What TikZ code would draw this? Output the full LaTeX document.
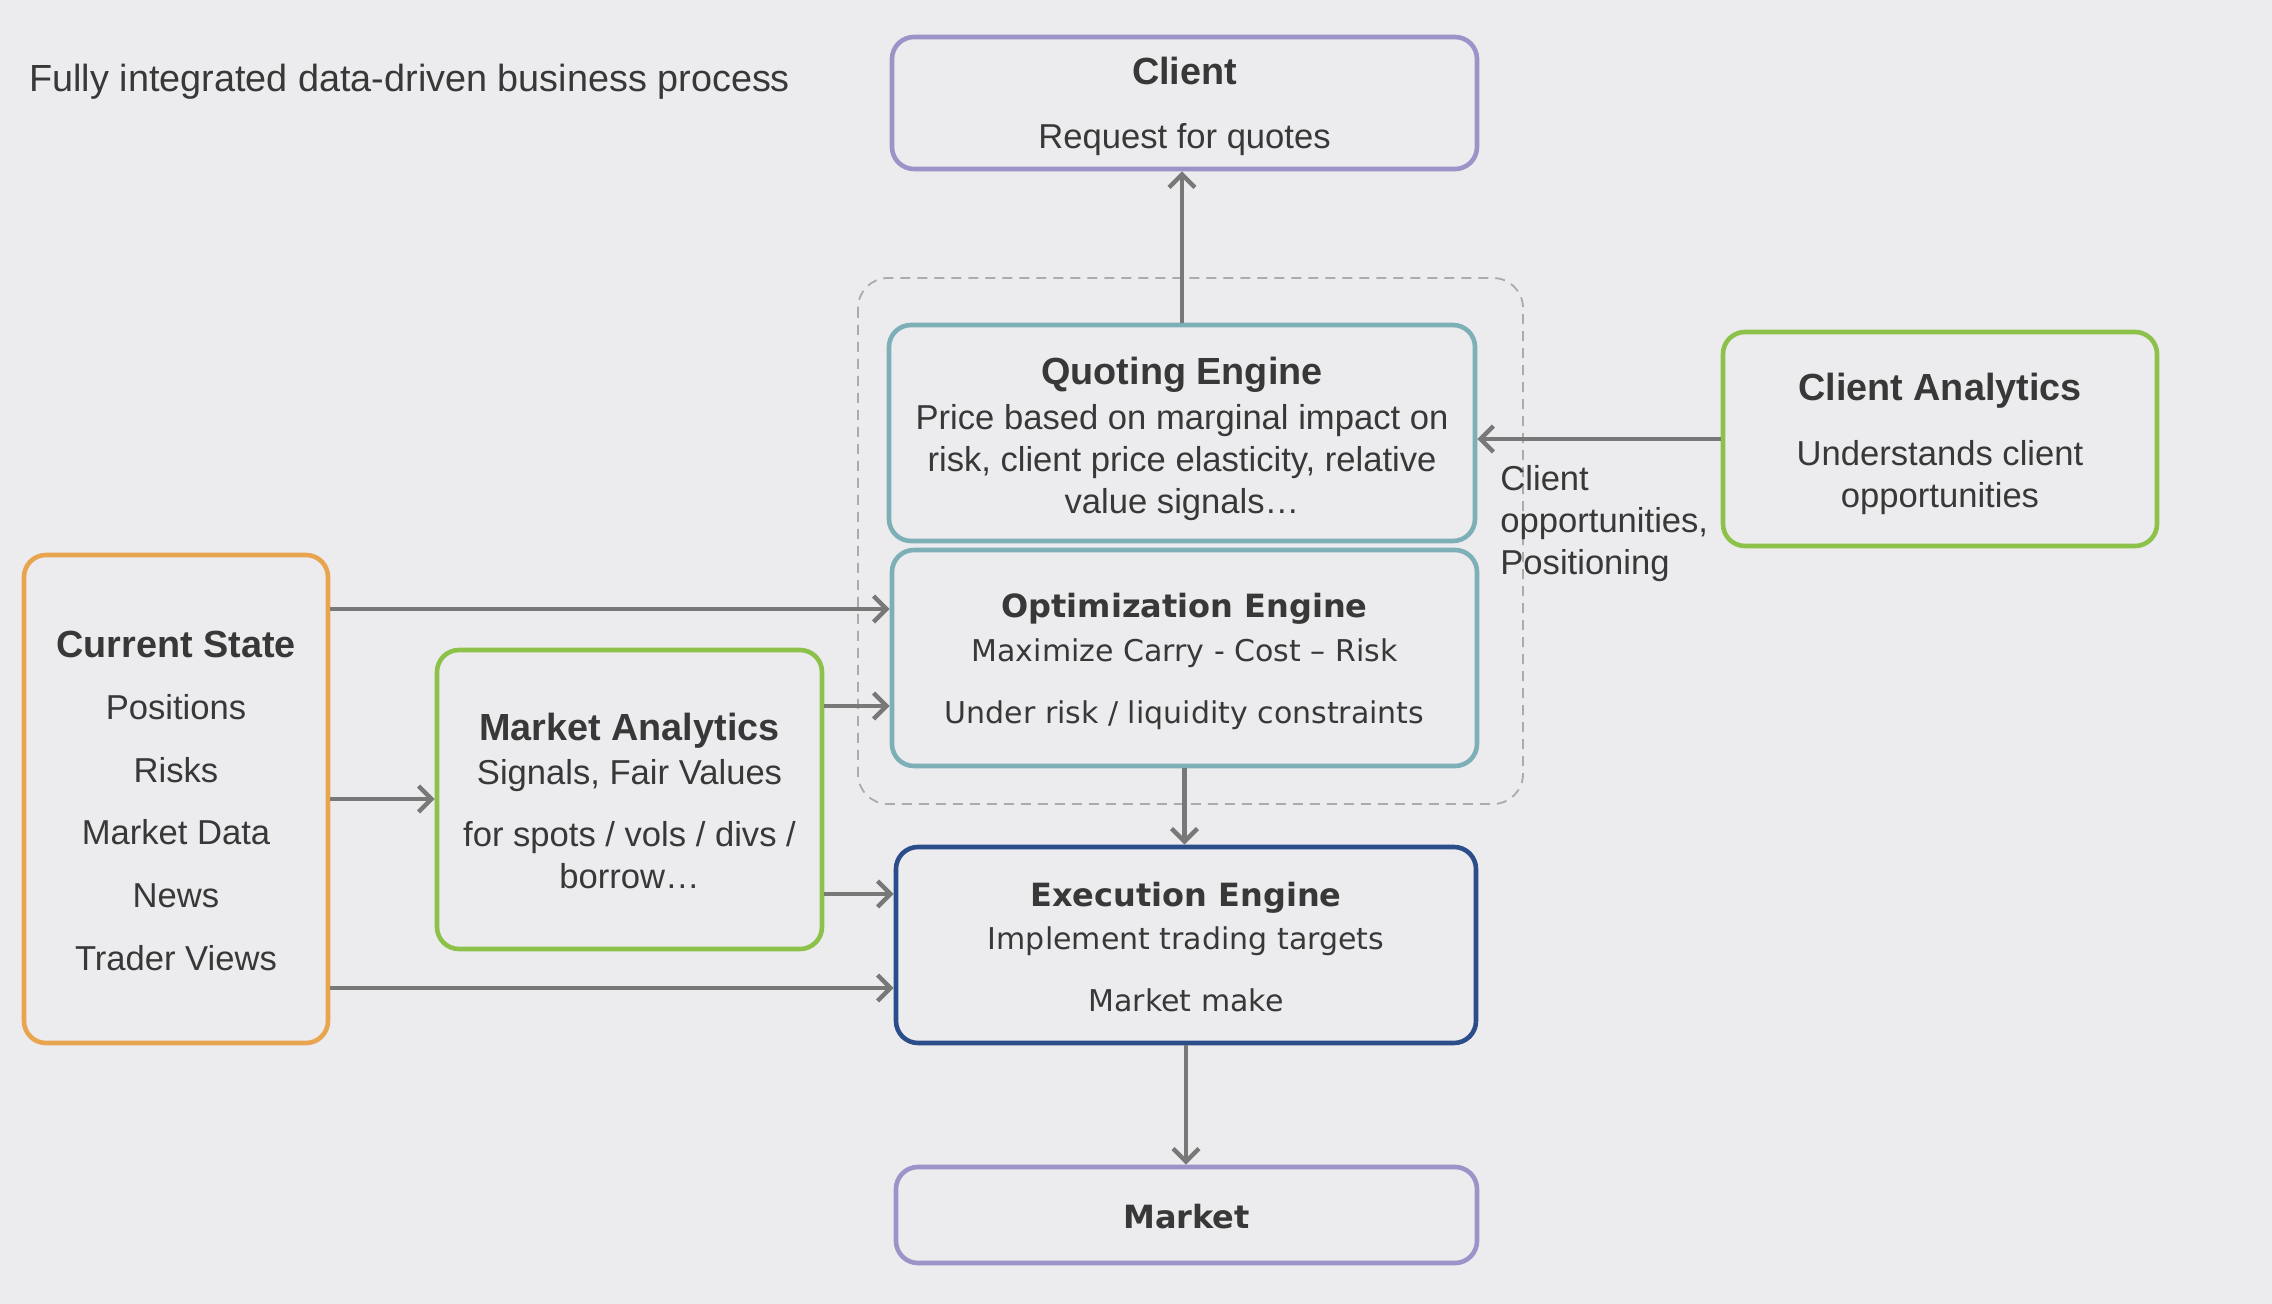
\documentclass[tikz,border=0pt]{standalone}
\usepackage{fontspec}
\setmainfont{Liberation Sans}
\newfontfamily\vfont{DejaVu Sans}
\usetikzlibrary{arrows.meta}
\definecolor{bg}{HTML}{ECECEE}
\definecolor{txt}{HTML}{383838}
\definecolor{purp}{HTML}{9C94C8}
\definecolor{tealc}{HTML}{7DAFB6}
\definecolor{navy}{HTML}{2B4D8A}
\definecolor{grn}{HTML}{8CC24A}
\definecolor{orng}{HTML}{E8A44E}
\definecolor{arrc}{HTML}{787878}
\definecolor{dashc}{HTML}{ABABAB}
\newcommand\boxhead[1]{{\fontsize{18.9}{21}\selectfont\bfseries #1}}
\newcommand\vhead[1]{{\vfont\fontsize{16}{21}\selectfont\bfseries #1}}
\begin{document}
\begin{tikzpicture}[x=0.5pt,y=-0.5pt,
  box/.style={draw, line width=2.3pt, rounded corners=11pt, inner sep=0pt},
  btext/.style={inner sep=0pt, align=center, text=txt, font=\fontsize{17.3}{21}\selectfont},
  vtext/.style={btext, font=\vfont\fontsize{15}{21}\selectfont},
  arr/.style={draw=arrc, line width=2.2pt, -{Straight Barb[length=6.5pt,width=13pt,line width=2.2pt]}},
  grpbox/.style={draw=dashc, line width=0.9pt, dash pattern=on 5pt off 3.5pt, rounded corners=15pt},
  lbl/.style={text=txt, inner sep=0pt, align=left, font=\fontsize{17.3}{21}\selectfont}
]
\fill[bg] (0,0) rectangle (2272,1304);
\useasboundingbox (0,0) rectangle (2272,1304);

\node[lbl, anchor=west, font=\fontsize{18.9}{22}\selectfont] (title) at (29,82) {Fully integrated data-driven business process};

\draw[grpbox] (858,278) rectangle (1523,804);

% boxes
\node[box, draw=purp, minimum width=292.5pt, minimum height=66pt] (client) at (1184.5,103) {};
\node[box, draw=tealc, minimum width=293pt, minimum height=108pt] (q) at (1182,433) {};
\node[box, draw=tealc, minimum width=292.5pt, minimum height=108pt] (opt) at (1184.5,658) {};
\node[box, draw=navy, minimum width=290pt, minimum height=98pt] (exec) at (1186,945) {};
\node[box, draw=purp, minimum width=290.5pt, minimum height=48pt] (market) at (1186.5,1215) {};
\node[box, draw=grn, minimum width=217pt, minimum height=107pt] (ca) at (1940,439) {};
\node[box, draw=orng, minimum width=152pt, minimum height=244pt] (cs) at (176,799) {};
\node[box, draw=grn, minimum width=192.5pt, minimum height=149.5pt] (ma) at (629.5,799.5) {};

% box texts
\node[btext] (client-t) at ([yshift=-1.8pt]client.center)
  {\boxhead{Client}\\[11pt] Request for quotes};
\node[btext] (q-t) at ([yshift=-2.9pt]q.center)
  {\boxhead{Quoting Engine}\\[1.2pt] Price based on marginal impact on\\ risk, client price elasticity, relative\\ value signals…};
\node[vtext] (opt-t) at ([yshift=-1.8pt]opt.center)
  {\vhead{Optimization Engine}\\[0.8pt] Maximize Carry - Cost – Risk\\[10pt] Under risk / liquidity constraints};
\node[vtext] (exec-t) at ([yshift=-1pt]exec.center)
  {\vhead{Execution Engine}\\[0.8pt] Implement trading targets\\[10pt] Market make};
\node[vtext] (market-t) at ([yshift=-0.7pt]market.center) {\vhead{Market}};
\node[btext] (ca-t) at ([yshift=-2.2pt]ca.center)
  {\boxhead{Client Analytics}\\[11.5pt] Understands client\\ opportunities};
\node[btext] (cs-t) at ([yshift=-0.8pt]cs.center)
  {\boxhead{Current State}\\[10.3pt] Positions\\[10.3pt] Risks\\[10.3pt] Market Data\\[10.3pt] News\\[10.3pt] Trader Views};
\node[btext] (ma-t) at ([yshift=-0.6pt]ma.center)
  {\boxhead{Market Analytics}\\[1pt] Signals, Fair Values\\[10pt] for spots / vols / divs /\\ borrow…};

\node[lbl, anchor=west] (lab) at (1500,524) {Client\\opportunities,\\Positioning};

% connectors
\draw[arr] (q.north) -- (q.north |- client.south);
\draw[arr] (opt.south) -- (opt.south |- exec.north);
\draw[arr] (exec.south) -- (exec.south |- market.north);
\draw[arr] (ca.west) -- (ca.west -| q.east);

\coordinate (p1) at ([yshift=24.5pt]opt.west);
\coordinate (p2) at ([yshift=-24pt]opt.west);
\coordinate (p3) at ([yshift=25.5pt]exec.west);
\coordinate (p4) at ([yshift=-21.5pt]exec.west);
\draw[arr] (cs.east |- p1) -- (p1);
\draw[arr] (cs.east) -- (cs.east -| ma.west);
\draw[arr] (ma.east |- p2) -- (p2);
\draw[arr] (ma.east |- p3) -- (p3);
\draw[arr] (cs.east |- p4) -- (p4);
\end{tikzpicture}
\end{document}
